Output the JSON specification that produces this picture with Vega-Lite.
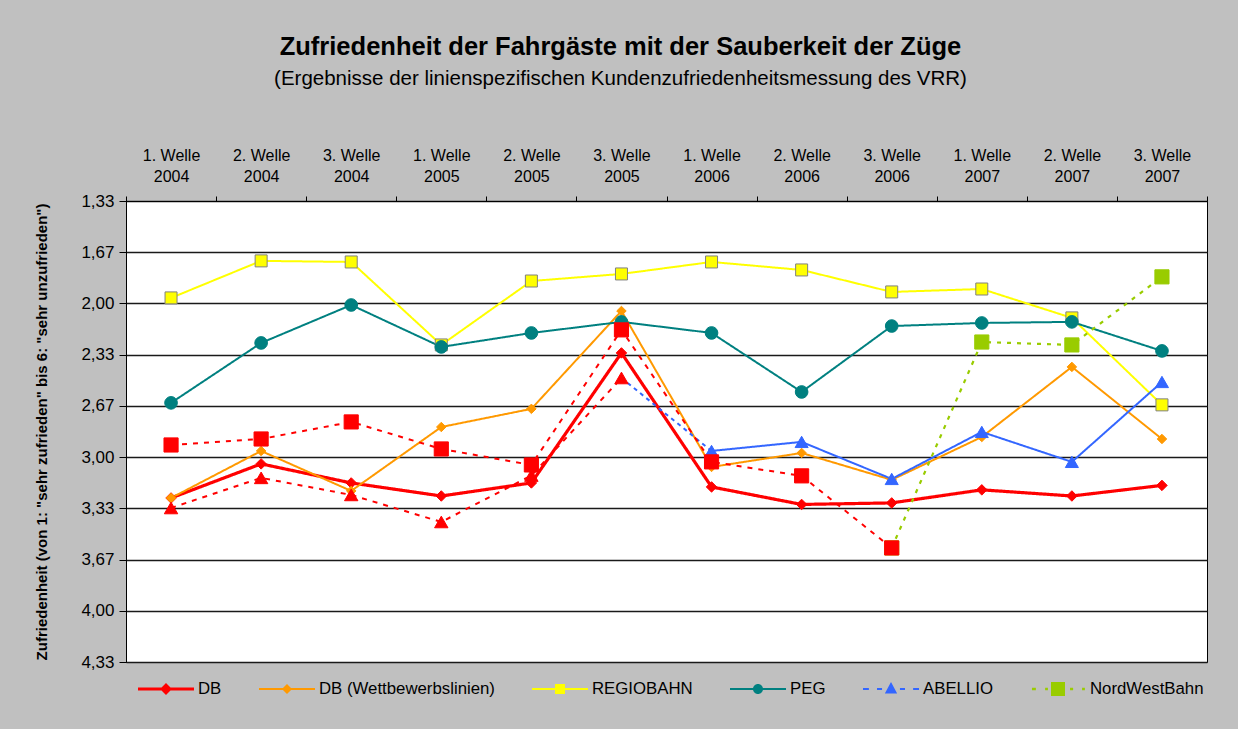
{
  "$schema": "https://vega.github.io/schema/vega-lite/v6.json",
  "width": 1081,
  "height": 461,
  "autosize": {"type": "none"},
  "padding": {"left": 126, "top": 201, "right": 31, "bottom": 67},
  "background": "#C0C0C0",
  "title": {
    "text": "Zufriedenheit der Fahrgäste mit der Sauberkeit der Züge",
    "subtitle": "(Ergebnisse der linienspezifischen Kundenzufriedenheitsmessung des VRR)",
    "anchor": "middle",
    "frame": "group",
    "dx": -46,
    "offset": 58,
    "font": "Liberation Sans",
    "fontSize": 25.5,
    "fontWeight": "bold",
    "color": "#000000",
    "subtitleFont": "Liberation Sans",
    "subtitleFontSize": 20.5,
    "subtitleColor": "#000000",
    "subtitlePadding": 8
  },
  "config": {
    "font": "Liberation Sans",
    "view": {"stroke": "#000000", "strokeWidth": 1, "fill": "#FFFFFF"}
  },
  "resolve": {"scale": {"shape": "independent", "fill": "independent"}},
  "data": {
    "values": [
      {"welle": "1. Welle|2004", "serie": "DB", "wert": 3.266},
      {"welle": "2. Welle|2004", "serie": "DB", "wert": 3.044},
      {"welle": "3. Welle|2004", "serie": "DB", "wert": 3.168},
      {"welle": "1. Welle|2005", "serie": "DB", "wert": 3.253},
      {"welle": "2. Welle|2005", "serie": "DB", "wert": 3.168},
      {"welle": "3. Welle|2005", "serie": "DB", "wert": 2.322},
      {"welle": "1. Welle|2006", "serie": "DB", "wert": 3.194},
      {"welle": "2. Welle|2006", "serie": "DB", "wert": 3.308},
      {"welle": "3. Welle|2006", "serie": "DB", "wert": 3.298},
      {"welle": "1. Welle|2007", "serie": "DB", "wert": 3.213},
      {"welle": "2. Welle|2007", "serie": "DB", "wert": 3.253},
      {"welle": "3. Welle|2007", "serie": "DB", "wert": 3.184},

      {"welle": "1. Welle|2004", "serie": "DB (Wettbewerbslinien)", "wert": 3.266},
      {"welle": "2. Welle|2004", "serie": "DB (Wettbewerbslinien)", "wert": 2.960},
      {"welle": "3. Welle|2004", "serie": "DB (Wettbewerbslinien)", "wert": 3.220},
      {"welle": "1. Welle|2005", "serie": "DB (Wettbewerbslinien)", "wert": 2.804},
      {"welle": "2. Welle|2005", "serie": "DB (Wettbewerbslinien)", "wert": 2.686},
      {"welle": "3. Welle|2005", "serie": "DB (Wettbewerbslinien)", "wert": 2.049},
      {"welle": "1. Welle|2006", "serie": "DB (Wettbewerbslinien)", "wert": 3.064},
      {"welle": "2. Welle|2006", "serie": "DB (Wettbewerbslinien)", "wert": 2.973},
      {"welle": "3. Welle|2006", "serie": "DB (Wettbewerbslinien)", "wert": 3.148},
      {"welle": "1. Welle|2007", "serie": "DB (Wettbewerbslinien)", "wert": 2.869},
      {"welle": "2. Welle|2007", "serie": "DB (Wettbewerbslinien)", "wert": 2.413},
      {"welle": "3. Welle|2007", "serie": "DB (Wettbewerbslinien)", "wert": 2.882},

      {"welle": "1. Welle|2004", "serie": "REGIOBAHN", "wert": 1.964},
      {"welle": "2. Welle|2004", "serie": "REGIOBAHN", "wert": 1.723},
      {"welle": "3. Welle|2004", "serie": "REGIOBAHN", "wert": 1.730},
      {"welle": "1. Welle|2005", "serie": "REGIOBAHN", "wert": 2.270},
      {"welle": "2. Welle|2005", "serie": "REGIOBAHN", "wert": 1.854},
      {"welle": "3. Welle|2005", "serie": "REGIOBAHN", "wert": 1.808},
      {"welle": "1. Welle|2006", "serie": "REGIOBAHN", "wert": 1.730},
      {"welle": "2. Welle|2006", "serie": "REGIOBAHN", "wert": 1.782},
      {"welle": "3. Welle|2006", "serie": "REGIOBAHN", "wert": 1.925},
      {"welle": "1. Welle|2007", "serie": "REGIOBAHN", "wert": 1.906},
      {"welle": "2. Welle|2007", "serie": "REGIOBAHN", "wert": 2.094},
      {"welle": "3. Welle|2007", "serie": "REGIOBAHN", "wert": 2.660},

      {"welle": "1. Welle|2004", "serie": "PEG", "wert": 2.647},
      {"welle": "2. Welle|2004", "serie": "PEG", "wert": 2.257},
      {"welle": "3. Welle|2004", "serie": "PEG", "wert": 2.010},
      {"welle": "1. Welle|2005", "serie": "PEG", "wert": 2.283},
      {"welle": "2. Welle|2005", "serie": "PEG", "wert": 2.192},
      {"welle": "3. Welle|2005", "serie": "PEG", "wert": 2.120},
      {"welle": "1. Welle|2006", "serie": "PEG", "wert": 2.192},
      {"welle": "2. Welle|2006", "serie": "PEG", "wert": 2.576},
      {"welle": "3. Welle|2006", "serie": "PEG", "wert": 2.147},
      {"welle": "1. Welle|2007", "serie": "PEG", "wert": 2.127},
      {"welle": "2. Welle|2007", "serie": "PEG", "wert": 2.120},
      {"welle": "3. Welle|2007", "serie": "PEG", "wert": 2.309},

      {"welle": "3. Welle|2005", "serie": "ABELLIO-Anschluss", "wert": 2.485},
      {"welle": "1. Welle|2006", "serie": "ABELLIO-Anschluss", "wert": 2.960},

      {"welle": "1. Welle|2006", "serie": "ABELLIO", "wert": 2.960},
      {"welle": "2. Welle|2006", "serie": "ABELLIO", "wert": 2.901},
      {"welle": "3. Welle|2006", "serie": "ABELLIO", "wert": 3.142},
      {"welle": "1. Welle|2007", "serie": "ABELLIO", "wert": 2.836},
      {"welle": "2. Welle|2007", "serie": "ABELLIO", "wert": 3.031},
      {"welle": "3. Welle|2007", "serie": "ABELLIO", "wert": 2.511},

      {"welle": "3. Welle|2006", "serie": "NordWestBahn", "wert": 3.591},
      {"welle": "1. Welle|2007", "serie": "NordWestBahn", "wert": 2.251},
      {"welle": "2. Welle|2007", "serie": "NordWestBahn", "wert": 2.270},
      {"welle": "3. Welle|2007", "serie": "NordWestBahn", "wert": 1.827},

      {"welle": "1. Welle|2004", "serie": "Reihe 7", "wert": 2.921},
      {"welle": "2. Welle|2004", "serie": "Reihe 7", "wert": 2.882},
      {"welle": "3. Welle|2004", "serie": "Reihe 7", "wert": 2.771},
      {"welle": "1. Welle|2005", "serie": "Reihe 7", "wert": 2.947},
      {"welle": "2. Welle|2005", "serie": "Reihe 7", "wert": 3.051},
      {"welle": "3. Welle|2005", "serie": "Reihe 7", "wert": 2.172},
      {"welle": "1. Welle|2006", "serie": "Reihe 7", "wert": 3.031},
      {"welle": "2. Welle|2006", "serie": "Reihe 7", "wert": 3.122},
      {"welle": "3. Welle|2006", "serie": "Reihe 7", "wert": 3.591},

      {"welle": "1. Welle|2004", "serie": "Reihe 8", "wert": 3.331},
      {"welle": "2. Welle|2004", "serie": "Reihe 8", "wert": 3.135},
      {"welle": "3. Welle|2004", "serie": "Reihe 8", "wert": 3.246},
      {"welle": "1. Welle|2005", "serie": "Reihe 8", "wert": 3.422},
      {"welle": "2. Welle|2005", "serie": "Reihe 8", "wert": 3.120},
      {"welle": "3. Welle|2005", "serie": "Reihe 8", "wert": 2.485}
    ]
  },
  "encoding": {
    "x": {
      "field": "welle",
      "type": "nominal",
      "sort": ["1. Welle|2004", "2. Welle|2004", "3. Welle|2004", "1. Welle|2005", "2. Welle|2005", "3. Welle|2005", "1. Welle|2006", "2. Welle|2006", "3. Welle|2006", "1. Welle|2007", "2. Welle|2007", "3. Welle|2007"],
      "scale": {"type": "band", "paddingInner": 0, "paddingOuter": 0},
      "bandPosition": 0.5,
      "axis": {
        "orient": "top",
        "title": null,
        "tickBand": "extent",
        "labelAngle": 0,
        "labelExpr": "split(datum.label, '|')",
        "labelFont": "Liberation Sans",
        "labelFontSize": 16,
        "labelLineHeight": 21,
        "labelColor": "#000000",
        "labelPadding": 33,
        "tickColor": "#000000",
        "tickSize": 5,
        "domainColor": "#000000",
        "grid": false
      }
    },
    "y": {
      "field": "wert",
      "type": "quantitative",
      "scale": {"domain": [1.3333, 4.3333], "reverse": true, "nice": false, "zero": false},
      "axis": {
        "values": [1.3333, 1.6667, 2, 2.3333, 2.6667, 3, 3.3333, 3.6667, 4, 4.3333],
        "labelExpr": "replace(format(datum.value, '.2f'), '.', ',')",
        "title": "Zufriedenheit (von 1: \"sehr zufrieden\" bis 6: \"sehr unzufrieden\")",
        "titleFont": "Liberation Sans",
        "titleFontSize": 15,
        "titleFontWeight": "bold",
        "titleColor": "#000000",
        "titlePadding": 31,
        "labelFont": "Liberation Sans",
        "labelFontSize": 17,
        "labelColor": "#000000",
        "labelPadding": 5,
        "tickSize": 7,
        "tickColor": "#000000",
        "domainColor": "#000000",
        "grid": true,
        "gridColor": "#1a1a1a",
        "gridWidth": 1.3
      }
    }
  },
  "layer": [
    {
      "mark": {"type": "line", "strokeJoin": "miter"},
      "encoding": {
        "color": {
          "field": "serie",
          "type": "nominal",
          "scale": {
            "domain": ["DB", "DB (Wettbewerbslinien)", "REGIOBAHN", "PEG", "ABELLIO-Anschluss", "ABELLIO", "NordWestBahn", "Reihe 7", "Reihe 8"],
            "range": ["#FF0000", "#FF9900", "#FFFF00", "#008080", "#3366FF", "#3366FF", "#99CC00", "#FF0000", "#FF0000"]
          },
          "legend": null
        },
        "strokeDash": {
          "field": "serie",
          "type": "nominal",
          "scale": {
            "domain": ["DB", "DB (Wettbewerbslinien)", "REGIOBAHN", "PEG", "ABELLIO-Anschluss", "ABELLIO", "NordWestBahn", "Reihe 7", "Reihe 8"],
            "range": [[1, 0], [1, 0], [1, 0], [1, 0], [4, 4], [1, 0], [4, 6], [5, 6], [5, 6]]
          },
          "legend": null
        },
        "strokeWidth": {
          "field": "serie",
          "type": "nominal",
          "scale": {
            "type": "ordinal",
            "domain": ["DB", "DB (Wettbewerbslinien)", "REGIOBAHN", "PEG", "ABELLIO-Anschluss", "ABELLIO", "NordWestBahn", "Reihe 7", "Reihe 8"],
            "range": [3.2, 2, 2, 2, 2, 2, 2.2, 2, 2]
          },
          "legend": null
        }
      }
    },
    {
      "transform": [{"filter": "datum.serie !== 'ABELLIO-Anschluss'"}],
      "mark": {"type": "point", "filled": true, "opacity": 1, "strokeWidth": 1},
      "encoding": {
        "color": {"field": "serie", "type": "nominal", "legend": null},
        "shape": {
          "field": "serie",
          "type": "nominal",
          "scale": {
            "domain": ["DB", "DB (Wettbewerbslinien)", "REGIOBAHN", "PEG", "ABELLIO", "NordWestBahn", "Reihe 7", "Reihe 8"],
            "range": ["diamond", "diamond", "square", "circle", "triangle-up", "square", "square", "triangle-up"]
          },
          "legend": null
        },
        "stroke": {
          "field": "serie",
          "type": "nominal",
          "scale": {
            "domain": ["DB", "DB (Wettbewerbslinien)", "REGIOBAHN", "PEG", "ABELLIO", "NordWestBahn", "Reihe 7", "Reihe 8"],
            "range": ["#FF0000", "#FF9900", "#808080", "#008080", "#3366FF", "#99CC00", "#FF0000", "#FF0000"]
          },
          "legend": null
        },
        "size": {
          "field": "serie",
          "type": "nominal",
          "scale": {
            "type": "ordinal",
            "domain": ["DB", "DB (Wettbewerbslinien)", "REGIOBAHN", "PEG", "ABELLIO", "NordWestBahn", "Reihe 7", "Reihe 8"],
            "range": [110, 90, 144, 160, 170, 200, 200, 180]
          },
          "legend": null
        }
      }
    },
    {
      "transform": [{"filter": "false"}],
      "mark": {"type": "point", "filled": true, "opacity": 1},
      "encoding": {
        "fill": {
          "field": "serie",
          "type": "nominal",
          "scale": {
            "domain": ["DB", "DB (Wettbewerbslinien)", "REGIOBAHN", "PEG", "ABELLIO", "NordWestBahn"],
            "range": ["#FF0000", "#FF9900", "#FFFF00", "#008080", "#3366FF", "#99CC00"]
          },
          "legend": {
            "orient": "none",
            "legendX": 12,
            "legendY": 460,
            "direction": "horizontal",
            "title": null,
            "symbolSize": 3136,
            "symbolStrokeWidth": 0,
            "symbolOpacity": 1,
            "labelFont": "Liberation Sans",
            "labelFontSize": 16.8,
            "labelColor": "#000000",
            "labelOffset": 4,
            "labelLimit": 400,
            "columnPadding": 37
          }
        },
        "shape": {
          "field": "serie",
          "type": "nominal",
          "scale": {
            "domain": ["DB", "DB (Wettbewerbslinien)", "REGIOBAHN", "PEG", "ABELLIO", "NordWestBahn"],
            "range": [
              "M-1,-0.054H1V0.054H-1ZM0,-0.214L0.214,0L0,0.214L-0.214,0Z",
              "M-1,-0.036H1V0.036H-1ZM0,-0.179L0.179,0L0,0.179L-0.179,0Z",
              "M-1,-0.036H1V0.036H-1ZM-0.179,-0.179H0.179V0.179H-0.179Z",
              "M-1,-0.036H1V0.036H-1ZM-0.179,0A0.179,0.179 0 1,1 0.179,0A0.179,0.179 0 1,1 -0.179,0Z",
              "M-1,-0.036H-0.79V0.036H-1ZM-0.5,-0.036H-0.32V0.036H-0.5ZM0.32,-0.036H0.5V0.036H0.32ZM0.79,-0.036H1V0.036H0.79ZM0,-0.25L0.22,0.16L-0.22,0.16Z",
              "M-0.93,-0.045H-0.79V0.045H-0.93ZM-0.46,-0.045H-0.36V0.045H-0.46ZM0.43,-0.045H0.54V0.045H0.43ZM0.86,-0.045H0.96V0.045H0.86ZM-0.25,-0.25H0.25V0.25H-0.25Z"
            ]
          },
          "legend": {
            "orient": "none",
            "legendX": 12,
            "legendY": 460,
            "direction": "horizontal",
            "title": null,
            "symbolSize": 3136,
            "symbolStrokeWidth": 0,
            "symbolOpacity": 1,
            "labelFont": "Liberation Sans",
            "labelFontSize": 16.8,
            "labelColor": "#000000",
            "labelOffset": 4,
            "labelLimit": 400,
            "columnPadding": 37
          }
        }
      }
    }
  ]
}
